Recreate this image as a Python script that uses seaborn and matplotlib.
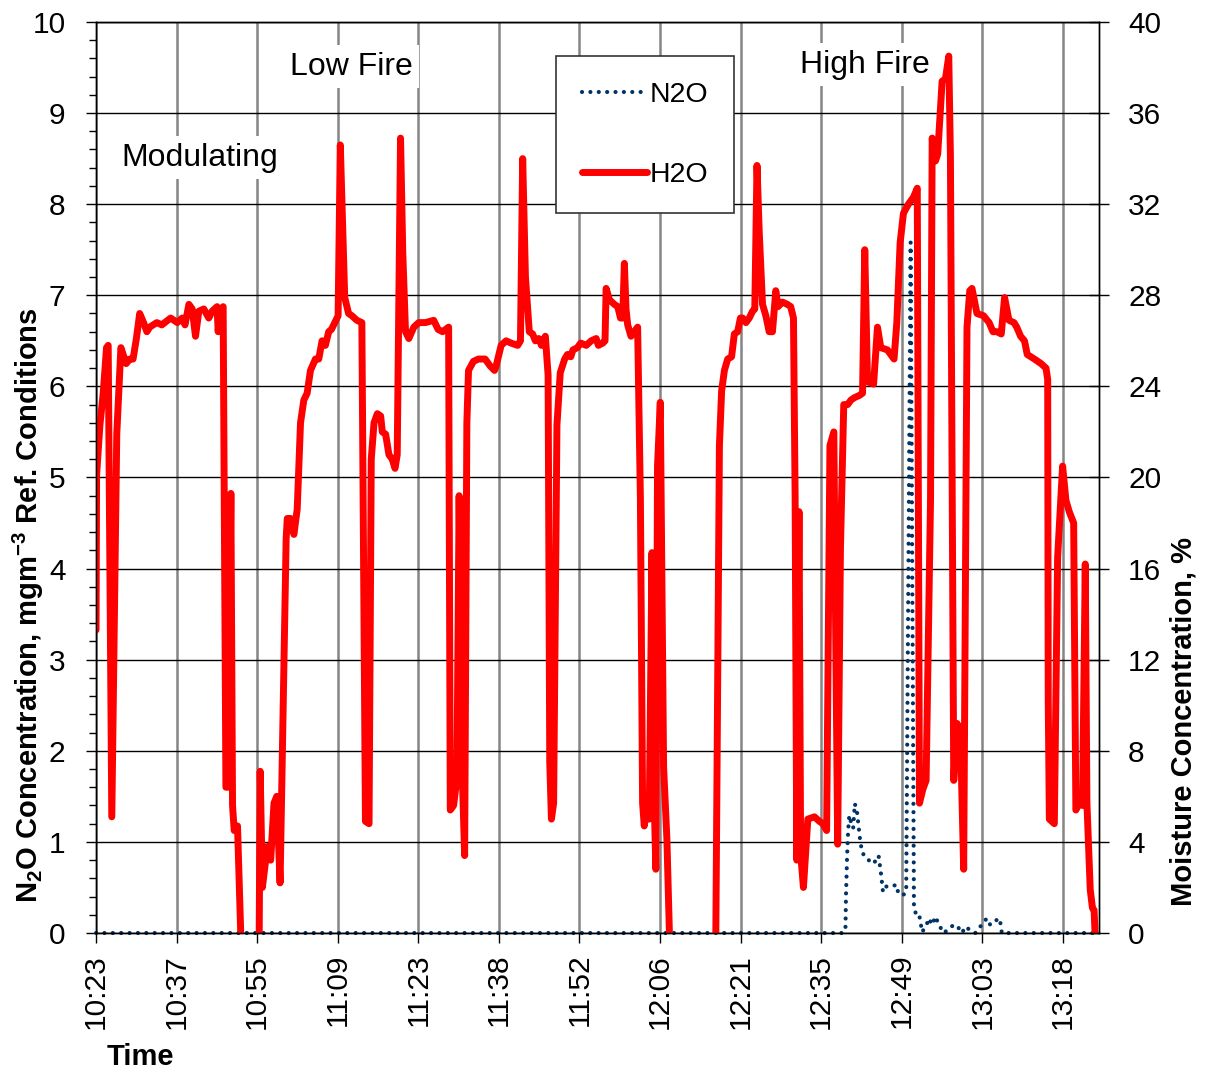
import numpy as np
import pandas as pd
import matplotlib
matplotlib.use('Agg')
import matplotlib.pyplot as plt
import seaborn as sns
from matplotlib.ticker import MultipleLocator

# time is in minutes after 10:23 (the axis is a category axis, labels every 14.58 min)
h2o_time = [0.0, 0.1, 0.7, 1.3, 1.9, 2.2, 2.85, 3.75, 4.5, 5.45, 6.1, 6.7, 7.3, 7.9, 8.6, 9.2, 9.7,
            11.0, 11.9, 13.5, 14.7, 15.6, 16.1, 16.8, 17.4, 18.0, 18.6, 19.5, 20.4, 21.0, 21.9, 22.1,
            22.4, 23.0, 23.5, 23.9, 24.4, 24.7, 25.0, 25.6, 26.8, 29.4, 29.7, 30.1, 31.0, 31.6, 32.2,
            32.7, 33.3, 34.4, 34.6, 35.2, 35.8, 36.4, 37.0, 37.6, 38.2, 38.8, 39.7, 40.3, 40.9, 41.5,
            42.1, 42.6, 43.2, 43.8, 44.2, 45.0, 45.7, 46.3, 47.2, 48.1, 48.75, 49.4, 49.8, 50.3, 50.9,
            51.5, 51.8, 52.4, 53.0, 53.6, 54.1, 54.5, 55.1, 55.5, 56.0, 56.6, 57.5, 58.4, 59.6, 61.1,
            61.9, 62.7, 63.8, 64.1, 64.7, 65.3, 65.7, 66.2, 66.7, 67.1, 67.4, 68.3, 69.2, 70.4, 71.3,
            72.1, 72.4, 73.3, 74.2, 75.1, 76.3, 76.8, 77.2, 77.7, 78.4, 79.0, 79.5, 80.1, 80.6, 81.3,
            81.8, 82.1, 82.4, 82.8, 83.4, 84.0, 84.8, 85.3, 85.9, 86.3, 87.1, 87.7, 88.7, 89.6, 90.5,
            90.9, 91.7, 92.1, 92.3, 92.9, 93.8, 94.4, 94.9, 95.3, 95.6, 95.9, 96.2, 96.8, 97.4, 98.0,
            98.5, 98.9, 99.2, 99.7, 100.1, 100.6, 100.9, 101.3, 101.6, 102.1, 102.7, 103.3, 104.3,
            112.0, 112.8, 113.2, 113.7, 114.3, 115.0, 115.5, 116.1, 116.6, 117.0, 117.6, 118.2, 118.8,
            119.2, 119.6, 120.0, 120.6, 121.2, 121.8, 122.4, 123.0, 123.4, 124.2, 125.1, 125.7, 126.2,
            126.5, 126.8, 127.2, 127.5, 128.0, 128.8, 130.0, 130.9, 131.5, 132.2, 132.8, 133.5, 134.2,
            134.7, 135.3, 136.0, 136.6, 137.2, 138.1, 138.7, 139.1, 139.6, 140.7, 141.4, 142.0, 143.2,
            143.8, 144.4, 144.9, 145.5, 146.1, 147.0, 147.9, 148.6, 149.0, 149.6, 150.2, 151.0, 151.3,
            151.9, 152.3, 152.6, 153.1, 153.7, 154.3, 154.6, 155.2, 155.8, 156.4, 157.0, 157.6, 158.1,
            158.5, 159.4, 160.6, 161.6, 162.3, 163.0, 163.8, 164.4, 165.2, 166.1, 166.6, 167.3, 168.0,
            168.5, 169.8, 171.0, 171.9, 172.2, 172.3, 172.5, 173.4, 174.0, 174.9, 175.5, 176.1, 176.9,
            177.3, 177.9, 178.5, 179.0, 179.3, 179.9, 180.3, 180.6, 181.1, 181.5]
h2o_pct = [13.3, 20.1, 22.3, 23.7, 25.7, 25.8, 5.1, 21.9, 25.7, 25.0, 25.2, 25.2, 26.1, 27.2, 26.8, 26.4, 26.6,
           26.8, 26.7, 27.0, 26.8, 27.0, 26.7, 27.6, 27.4, 26.2, 27.3, 27.4, 27.0, 27.3, 27.5, 26.4,
           27.3, 27.5, 6.4, 6.4, 19.3, 5.6, 4.5, 4.7, -5, -5, 7.1, 2.0, 3.8, 3.2, 5.7,
           6.0, 2.2, 17.3, 18.2, 18.2, 17.5, 18.6, 22.4, 23.4, 23.7, 24.7, 25.2, 25.2, 26.0, 25.8,
           26.4, 26.5, 26.8, 27.1, 34.6, 27.9, 27.2, 27.1, 26.9, 26.8, 4.9, 4.8, 20.8, 22.4, 22.8,
           22.7, 22.0, 21.9, 21.0, 20.8, 20.4, 21.0, 34.9, 29.9, 26.4, 26.1, 26.6, 26.8, 26.8, 26.9,
           26.5, 26.4, 26.6, 5.4, 5.6, 6.8, 19.2, 7.5, 3.4, 22.4, 24.7, 25.1, 25.2, 25.2, 24.9,
           24.7, 24.9, 25.8, 26.0, 25.9, 25.8, 26.0, 34.0, 28.8, 26.4, 26.3, 26.0, 26.1, 25.8, 26.2,
           24.5, 7.5, 5.0, 5.7, 22.3, 24.6, 25.2, 25.4, 25.3, 25.6, 25.7, 25.9, 25.8, 26.0, 26.1,
           25.8, 25.9, 26.0, 28.3, 27.8, 27.6, 27.5, 27.0, 27.0, 29.4, 27.4, 26.7, 26.2, 26.4, 26.6,
           19.1, 5.7, 4.7, 5.6, 5.0, 16.7, 6.8, 2.8, 20.5, 23.3, 7.3, 4.1, -5,
           -5, 21.4, 23.8, 24.7, 25.2, 25.3, 26.3, 26.4, 27.0, 27.0, 26.8, 27.0, 27.3,
           27.4, 33.7, 30.8, 27.6, 27.1, 26.4, 26.4, 28.2, 27.5, 27.7, 27.6, 27.5, 27.0,
           19.1, 3.2, 18.5, 3.5, 2.0, 5.0, 5.1, 4.9, 4.8, 4.5, 21.4, 22.0, 3.9,
           16.9, 23.2, 23.2, 23.4, 23.5, 23.6, 23.7, 30.0, 24.2, 24.1, 26.6, 25.7, 25.6,
           25.4, 25.2, 26.8, 30.3, 31.6, 32.0, 32.3, 32.7, 5.7, 6.3, 6.7, 19.0, 34.9,
           33.9, 34.2, 35.4, 37.4, 37.5, 38.5, 34.1, 6.7, 9.2, 8.9, 2.8, 26.6, 28.2,
           28.3, 27.2, 27.1, 26.8, 26.4, 26.4, 26.3, 27.9, 26.9, 26.8, 26.6, 26.2, 26.0,
           25.4, 25.2, 25.0, 24.8, 24.3, 10.2, 5.0, 4.8, 16.5, 20.5, 19.0, 18.5, 18.0,
           5.4, 5.7, 5.6, 16.2, 5.7, 1.9, 1.1, 1.0, -2, -5]

n2o_time = [0.0, 135.0, 135.6, 135.7, 135.9, 136.1, 136.3, 136.6, 137.0, 137.3, 137.7, 138.2, 138.6,
            139.2, 139.8, 140.7, 141.6, 142.0, 142.4, 143.0, 144.0, 144.8, 145.2, 146.1, 146.6, 147.4,
            148.0, 148.3, 148.9, 149.2, 149.5, 150.4, 150.7, 151.3, 151.9, 152.5, 153.4, 155.2, 155.8,
            156.7, 157.3, 158.2, 159.1, 160.0, 160.6, 161.2, 161.8, 162.6, 163.5, 163.7, 163.9, 181.5]
n2o_conc = [0, 0, 0.03, 0.40, 0.84, 1.13, 1.29, 1.22, 1.15, 1.42, 1.33, 1.05, 0.89,
            0.83, 0.80, 0.76, 0.85, 0.67, 0.45, 0.51, 0.51, 0.53, 0.43, 0.42, 0.45, 7.58,
            0.31, 0.22, 0.22, 0.11, 0.01, 0.11, 0.16, 0.09, 0.18, 0.09, 0, 0.09, 0.08,
            0, 0.07, 0.03, 0, 0.07, 0.12, 0.16, 0.09, 0.13, 0.16, 0.09, 0, 0]

time_labels = ['10:23', '10:37', '10:55', '11:09', '11:23', '11:38', '11:52',
               '12:06', '12:21', '12:35', '12:49', '13:03', '13:18']
label_step = 14.58

sns.set_style('ticks')
plt.rcParams['font.family'] = ['Liberation Sans', 'DejaVu Sans']
plt.rcParams['mathtext.fontset'] = 'custom'
plt.rcParams['mathtext.rm'] = 'Liberation Sans:bold'
plt.rcParams['mathtext.default'] = 'rm'
plt.rcParams['text.color'] = 'black'
plt.rcParams['axes.labelcolor'] = 'black'
plt.rcParams['xtick.color'] = 'black'
plt.rcParams['ytick.color'] = 'black'

fig = plt.figure(figsize=(12.05, 10.76), dpi=100)
ax = fig.add_axes([0.0797, 0.1329, 0.8324, 0.8467])
ax2 = ax.twinx()

n2o = pd.DataFrame({'time': n2o_time, 'N2O': n2o_conc})
h2o = pd.DataFrame({'time': h2o_time, 'H2O': h2o_pct})

sns.lineplot(data=n2o, x='time', y='N2O', ax=ax, color='#003366', lw=3.0,
             estimator=None, sort=False, legend=False)
n2o_line = ax.lines[-1]
n2o_line.set_linestyle((0, (0.01, 2.0)))
n2o_line.set_dash_capstyle('round')
n2o_line.set_clip_on(False)

sns.lineplot(data=h2o, x='time', y='H2O', ax=ax2, color='#FF0000', lw=5.0,
             estimator=None, sort=False, legend=False)
h2o_line = ax2.lines[-1]
h2o_line.set_solid_joinstyle('round')
h2o_line.set_solid_capstyle('round')

ax.set_xlim(0, 181.5)
ax.set_ylim(0, 10)
ax2.set_ylim(0, 40)
ax.set_xticks(np.arange(len(time_labels)) * label_step)
ax.set_xticklabels(time_labels)
ax.set_yticks(np.arange(0, 11, 1))
ax.yaxis.set_minor_locator(MultipleLocator(0.2))
ax2.set_yticks(np.arange(0, 41, 4))
ax.set_xlabel('')
ax.set_ylabel('')
ax2.set_ylabel('')

ax.grid(axis='y', color='black', lw=1.0)
ax.grid(axis='x', color='#858585', lw=1.8)
ax2.grid(False)

for a in (ax, ax2):
    for s in a.spines.values():
        s.set_color('black')
        s.set_linewidth(1.0)
        s.set_visible(True)

ax.tick_params(axis='y', which='major', direction='out', length=7, width=1, color='black',
               labelsize=21.5, labelcolor='black', pad=15, left=True, right=False)
ax.tick_params(axis='y', which='minor', direction='out', length=5, width=1, color='black',
               left=True, right=False)
ax.tick_params(axis='x', direction='out', length=7, width=1, color='black', labelsize=21.5,
               labelcolor='black', pad=8, labelrotation=90, bottom=True, top=False)
ax2.tick_params(axis='y', direction='inout', length=14, width=1, color='black', labelsize=21.5,
                labelcolor='black', pad=14, right=True, left=False)

# phase annotations
for tx, ty, txt in [(46.2, 9.51, 'Low Fire'), (18.8, 8.51, 'Modulating'), (139.2, 9.53, 'High Fire')]:
    ax2.text(tx, ty, txt, transform=ax.transData, ha='center', va='center', fontsize=23,
             color='black', bbox=dict(boxstyle='square,pad=0.2', fc='white', ec='none'), zorder=5)

leg = ax2.legend(handles=[n2o_line, h2o_line], labels=['N2O', 'H2O'], loc='upper left',
                 bbox_to_anchor=(0.4586, 0.9627), borderaxespad=0, frameon=True, fancybox=False,
                 edgecolor='#333333', framealpha=1, fontsize=20.5, handlelength=2.3,
                 handletextpad=0.1, labelspacing=1.9, borderpad=0.9)
leg.get_frame().set_linewidth(1.2)
leg.set_zorder(6)

fig.text(28 / 1205, 1 - 605 / 1076, r'N$_{2}$O Concentration, mgm$^{-3}$ Ref. Conditions',
         rotation=90, ha='center', va='center', fontsize=21, fontweight='bold')
fig.text(1183 / 1205, 1 - 722 / 1076, 'Moisture Concentration, %', rotation=90,
         ha='center', va='center', fontsize=21, fontweight='bold')
fig.text(140 / 1205, 1 - 1057 / 1076, 'Time', ha='center', va='center', fontsize=21,
         fontweight='bold')

fig.savefig('out.png', dpi=100)
